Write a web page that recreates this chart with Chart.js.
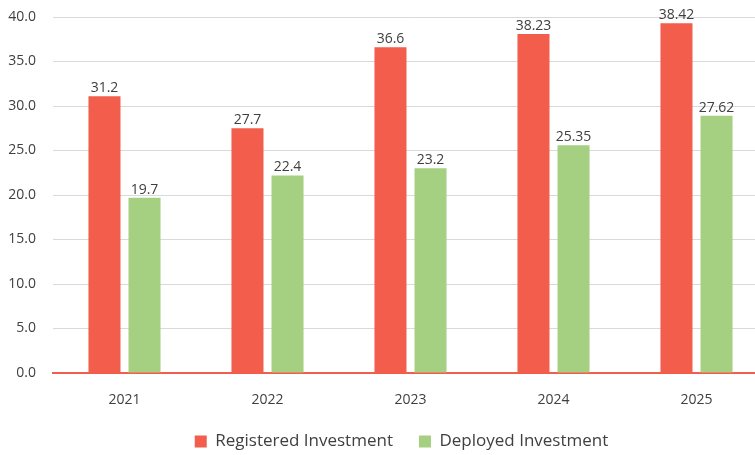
<!DOCTYPE html>
<html>
<head>
<meta charset="utf-8">
<script src="https://cdn.jsdelivr.net/npm/chart.js@4"></script>
<style>
  html, body { margin: 0; padding: 0; background: #fff; overflow: hidden; }
  #wrap { width: 768px; height: 460px; position: relative; }
</style>
</head>
<body>
<div id="wrap"><canvas id="c"></canvas></div>
<script>
const categories = ["2021", "2022", "2023", "2024", "2025"];
const registeredValues = [31.1, 27.5, 36.6, 38.1, 39.3];
const deployedValues = [19.7, 22.2, 23.0, 25.6, 28.9];
const registeredLabels = ["31.2", "27.7", "36.6", "38.23", "38.42"];
const deployedLabels = ["19.7", "22.4", "23.2", "25.35", "27.62"];
const yTicks = [0, 5, 10, 15, 20, 25, 30, 35, 40];

const RED = "#F35D4B";
const GREEN = "#A6D081";
const TEXT = "#404040";
const FONT = "'Open Sans', 'Noto Sans', sans-serif";

const labelSets = [registeredLabels, deployedLabels];

const dataLabels = {
  id: "dataLabels",
  afterDatasetsDraw(chart) {
    const ctx = chart.ctx;
    ctx.save();
    ctx.font = "14px " + FONT;
    ctx.fillStyle = TEXT;
    ctx.textAlign = "center";
    ctx.textBaseline = "alphabetic";
    chart.data.datasets.forEach((ds, i) => {
      const meta = chart.getDatasetMeta(i);
      meta.data.forEach((el, j) => {
        ctx.fillText(labelSets[i][j], el.x, el.y - 4);
      });
    });
    ctx.restore();
  }
};

const legendShift = {
  id: "legendShift",
  afterLayout(chart) {
    const lg = chart.legend;
    if (lg) { lg.left -= 9; lg.right -= 9; }
  }
};

new Chart(document.getElementById("c"), {
  type: "bar",
  data: {
    labels: categories,
    datasets: [
      { label: "Registered Investment", data: registeredValues, backgroundColor: RED },
      { label: "Deployed Investment", data: deployedValues, backgroundColor: GREEN }
    ]
  },
  options: {
    responsive: true,
    maintainAspectRatio: false,
    animation: false,
    layout: { padding: { left: 8, top: 17, right: 0, bottom: 0 } },
    categoryPercentage: 0.56,
    barPercentage: 0.8,
    plugins: {
      legend: {
        position: "bottom",
        fullSize: false,
        labels: {
          boxWidth: 12, boxHeight: 12, padding: 26,
          color: TEXT,
          font: { family: FONT, size: 17 }
        }
      },
      tooltip: { enabled: false }
    },
    scales: {
      x: {
        grid: { display: false },
        border: { color: RED, width: 2 },
        ticks: { color: TEXT, font: { family: FONT, size: 14 }, padding: 11 },
        afterFit(scale) { scale.height = 34; }
      },
      y: {
        min: 0, max: 40,
        afterBuildTicks(scale) { scale.ticks = yTicks.map(v => ({ value: v })); },
        grid: { color: "#D9D9D9", lineWidth: 1, drawTicks: false },
        border: { display: false },
        ticks: {
          color: TEXT, font: { family: FONT, size: 14 }, padding: 17,
          callback: v => Number(v).toFixed(1)
        },
        afterFit(scale) { scale.width = 45; scale.paddingTop = 0; scale.paddingBottom = 0; }
      }
    }
  },
  plugins: [dataLabels, legendShift]
});
</script>
</body>
</html>
